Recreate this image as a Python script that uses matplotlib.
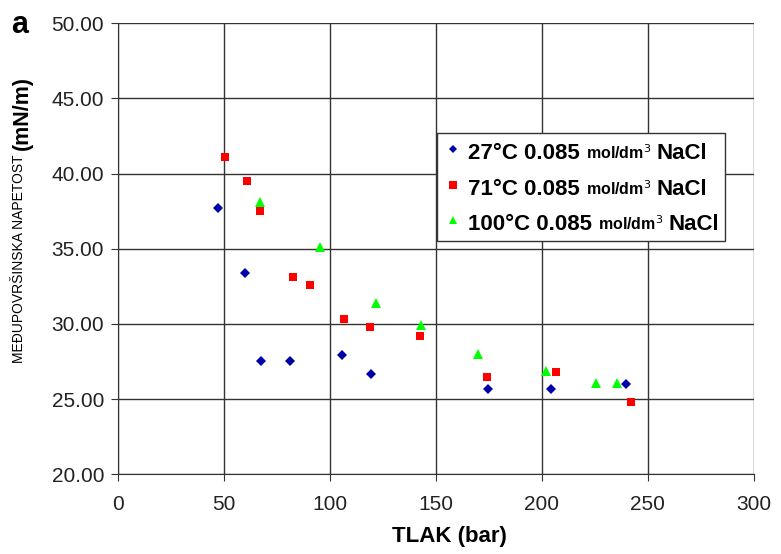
import matplotlib.pyplot as plt
from matplotlib.lines import Line2D
from matplotlib.offsetbox import (AnchoredOffsetbox, DrawingArea, HPacker,
                                  TextArea, VPacker)

plt.rcParams['font.family'] = ['Liberation Sans', 'DejaVu Sans']

## Measured data: pressure (bar) vs. interfacial tension (mN/m)
p_27 = [47.2, 59.9, 67.5, 81.1, 105.7, 119.3, 174.5, 204.2, 239.6]
ift_27 = [37.7, 33.4, 27.5, 27.5, 27.9, 26.7, 25.7, 25.7, 26.0]

p_71 = [50.5, 60.8, 67.0, 82.5, 90.6, 106.6, 118.9, 142.5, 174.0, 206.6, 242.0]
ift_71 = [41.1, 39.5, 37.5, 33.1, 32.6, 30.3, 29.8, 29.2, 26.5, 26.8, 24.8]

p_100 = [67.0, 95.3, 121.7, 143.0, 169.8, 201.9, 225.5, 235.4]
ift_100 = [38.1, 35.1, 31.4, 29.9, 28.0, 26.9, 26.1, 26.05]

temps = ['27', '71', '100']
conc = '0.085'

series = [
    (p_27, ift_27, 'D', '#0000a8', 5.0),
    (p_71, ift_71, 's', '#ff0000', 6.0),
    (p_100, ift_100, '^', '#00ff00', 6.5),
]

fig = plt.figure(figsize=(7.81, 5.54), dpi=100)
ax = fig.add_axes([0.151, 0.144, 0.814, 0.814])

for (x, y, mk, col, ms) in series:
    ax.plot(x, y, linestyle='none', marker=mk, color=col, markersize=ms,
            markeredgewidth=0, zorder=3)

ax.set_xlim(0, 300)
ax.set_ylim(20, 50)
ax.set_xticks(range(0, 301, 50))
ax.set_yticks(range(20, 51, 5))
ax.set_yticklabels(['%.2f' % v for v in range(20, 51, 5)])
ax.grid(True, color='#333333', linewidth=1.0)
ax.set_axisbelow(True)
for s in ['top', 'right']:
    ax.spines[s].set_visible(False)
for s in ['left', 'bottom']:
    ax.spines[s].set_color('#333333')
ax.tick_params(axis='both', labelsize=15, length=5, color='#333333',
               labelcolor='#222222')
ax.tick_params(axis='x', pad=10)
ax.tick_params(axis='y', pad=5)
ax.set_xlabel('TLAK (bar)', fontsize=16, fontweight='bold')
ax.xaxis.set_label_coords(0.522, -0.115)

# y label in two parts with different sizes
fig.text(0.024, 0.345, 'MEĐUPOVRŠINSKA NAPETOST', rotation=90, fontsize=10,
         ha='center', va='bottom')
fig.text(0.029, 0.729, '(mN/m)', rotation=90, fontsize=15.5,
         fontweight='bold', ha='center', va='bottom')

fig.text(0.014, 0.955, 'a', fontsize=22, fontweight='bold', va='center')

# legend with mixed-size text
rows = []
for (x, y, mk, col, ms), t in zip(series, temps):
    da = DrawingArea(14, 14, 0, 0)
    da.add_artist(Line2D([7], [7], marker=mk, color=col, markersize=ms * 0.9,
                         markeredgewidth=0, linestyle='none'))
    big = dict(fontsize=16, fontweight='bold')
    small = dict(fontsize=11.5, fontweight='bold')
    row = HPacker(children=[
        da,
        TextArea(t + '°C ' + conc, textprops=big),
        TextArea('mol/dm$^3$', textprops=small),
        TextArea('NaCl', textprops=big),
    ], align='baseline', pad=0, sep=4)
    rows.append(row)

box = VPacker(children=rows, align='left', pad=0, sep=8)
leg = AnchoredOffsetbox(loc='upper left', child=box, pad=0.45, borderpad=0,
                        bbox_to_anchor=(0.502, 0.756),
                        bbox_transform=ax.transAxes, frameon=True)
leg.patch.set_edgecolor('#333333')
leg.patch.set_linewidth(1.0)
leg.zorder = 5
ax.add_artist(leg)

fig.savefig('out.png', dpi=100)
